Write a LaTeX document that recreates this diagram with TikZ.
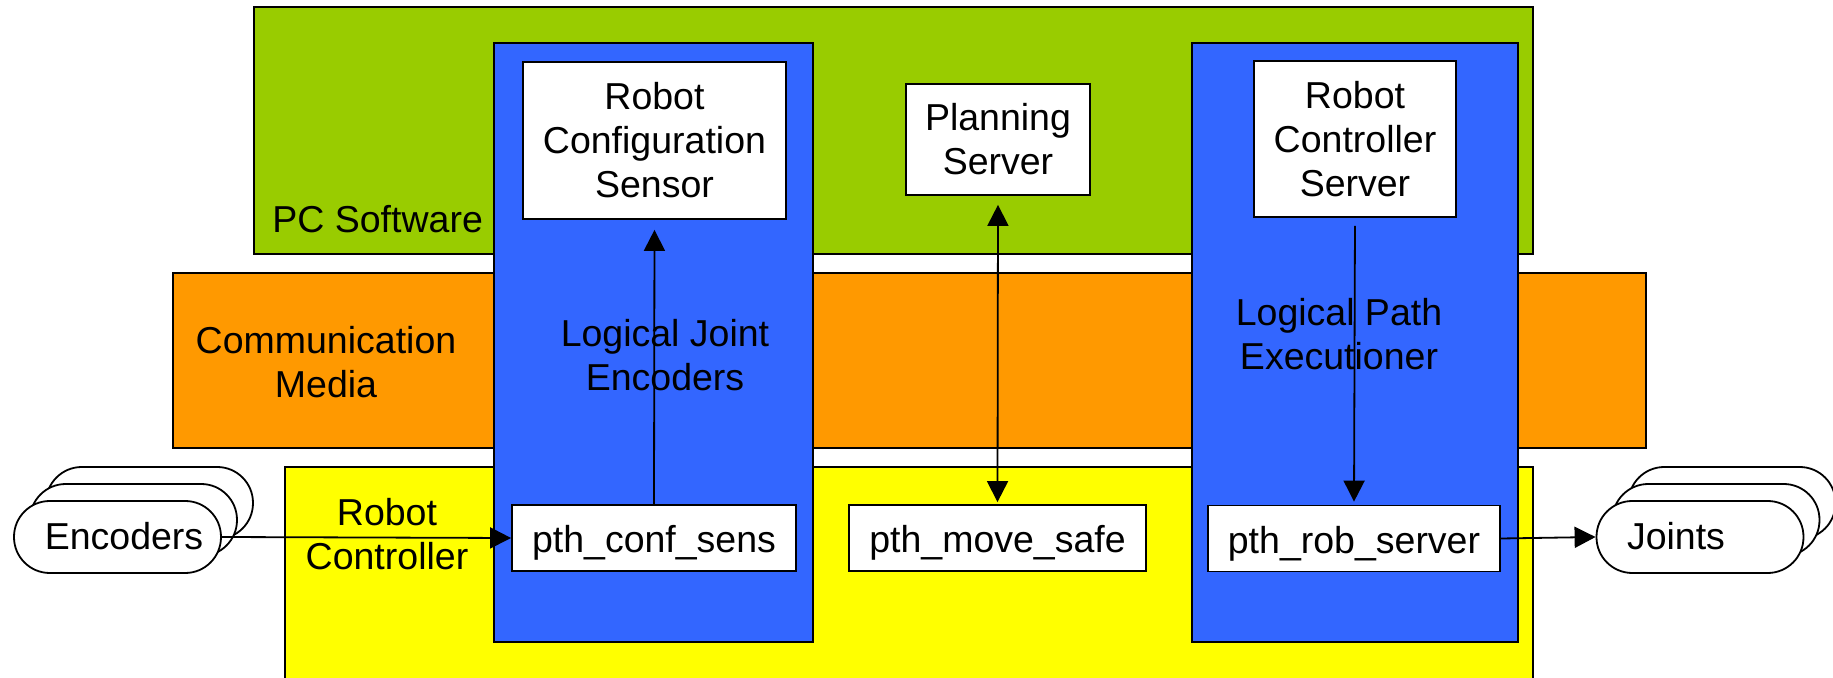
\documentclass[tikz,border=0pt]{standalone}
\usepackage{fontspec}
\setmainfont{Liberation Sans}
\usetikzlibrary{fit,arrows.meta}
\definecolor{pcgreen}{RGB}{153,204,0}
\definecolor{commorange}{RGB}{255,153,0}
\definecolor{ctrlyellow}{RGB}{255,255,0}
\definecolor{logicblue}{RGB}{51,102,255}
\begin{document}
\begin{tikzpicture}[x=0.5pt,y=-0.5pt,
  every node/.style={font=\fontsize{18.75}{22}\selectfont, inner sep=0pt},
  layer/.style={draw=black, line width=1pt},
  logic/.style={draw=black, line width=1pt, fill=logicblue},
  wbox/.style={draw=black, line width=0.9pt, fill=white, align=center},
  thread/.style={wbox, minimum height=33pt, text height=17pt, text depth=2pt},
  pill/.style={draw=black, line width=0.9pt, fill=white, rounded corners=17.9pt,
               minimum width=103.5pt, minimum height=36pt},
  txt/.style={align=center},
  arr/.style={line width=0.9pt, -{Triangle[length=10.5pt,width=10.5pt]}},
  darr/.style={line width=0.9pt, {Triangle[length=10.5pt,width=10.5pt]}-{Triangle[length=10.5pt,width=10.5pt]}}]

\useasboundingbox (0,0) rectangle (1833,678);
\clip (0,0) rectangle (1833,678);

% system layers
\node[layer, fill=pcgreen,    fit={(254,7)(1533,254)}]   (pc)   {};
\node[layer, fill=commorange, fit={(173,273)(1646,448)}] (comm) {};
\node[layer, fill=ctrlyellow, fit={(285,467)(1533,700)}] (ctrl) {};

\node[anchor=base west] (pclbl) at (272,233) {PC Software};
\node[txt] (commlbl) at (326,362) {Communication\\Media};
\node[txt] (ctrllbl) at (387,534) {Robot\\Controller};

% logical components spanning the layers
\node[logic, fit={(494,43)(813,642)}]   (lje) {};
\node[logic, fit={(1192,43)(1518,642)}] (lpe) {};
\node[txt] (ljelbl) at (665,355) {Logical Joint\\Encoders};
\node[txt] (lpelbl) at (1339,334) {Logical Path\\Executioner};

% software modules and controller threads
\node[wbox, minimum width=131.5pt, minimum height=78.5pt] (rcs)   at (654.5,140.5) {Robot\\Configuration\\Sensor};
\node[wbox, minimum width=92pt,    minimum height=55.5pt] (plan)  at (998,139.5)   {Planning\\Server};
\node[wbox, minimum width=101pt,   minimum height=78pt]   (rcsrv) at (1355,139)     {Robot\\Controller\\Server};
\node[thread, minimum width=142pt]   (conf) at (654,538)    {pth\_conf\_sens};
\node[thread, minimum width=148.5pt] (move) at (997.5,538)  {pth\_move\_safe};
\node[thread, minimum width=146pt]   (rob)  at (1354,538.5) {pth\_rob\_server};

% hardware: stacked encoders and joints
\node[pill] (enc3) at (149.5,503) {};
\node[pill] (enc2) at (133.5,520) {};
\node[pill] (enc)  at (117.5,537) {};
\node[anchor=base] (enclbl) at (124,550) {Encoders};

\node[pill] (jnt3) at (1732,503) {};
\node[pill] (jnt2) at (1716,520) {};
\node[pill] (jnt)  at (1700,537) {};
\node[anchor=base] (jntlbl) at (1676,550) {Joints};

% data flow
\draw[arr] (enc.east) -- (conf.west);
\draw[arr, shorten >=5pt] (conf.north) -- (rcs.south);
\draw[darr, shorten <=4.5pt, shorten >=1pt] (plan.south) -- (move.north);
\draw[arr, shorten <=4pt, shorten >=1.5pt] (rcsrv.south) -- (rob.north);
\draw[arr] (rob.east) -- (jnt.west);
\end{tikzpicture}
\end{document}
